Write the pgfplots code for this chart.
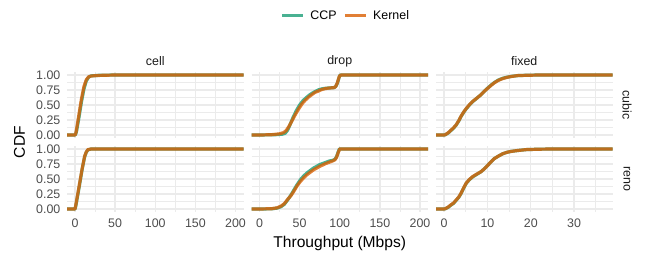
\documentclass[border=0pt]{standalone}
\usepackage{pgfplots}
\pgfplotsset{compat=1.18}
\usepackage{fontspec}
\setmainfont{Liberation Sans}
\definecolor{ccp}{HTML}{1B9E77}
\definecolor{kern}{HTML}{D95F02}
\definecolor{gridc}{HTML}{EBEBEB}
\definecolor{tickc}{HTML}{4D4D4D}
\definecolor{stripc}{HTML}{1A1A1A}
\newcommand{\tsz}{\fontsize{12.4bp}{14bp}\selectfont}
\newcommand{\bsz}{\fontsize{15.6bp}{18bp}\selectfont}
\pgfplotsset{
  panel/.style={
    scale only axis, width=176.5bp, height=66bp, anchor=south west,
    ymin=-0.05, ymax=1.05,
    axis line style={draw=none}, major tick length=0pt, minor tick length=0pt,
    grid=both,
    major grid style={color=gridc, line width=1.4bp},
    minor grid style={color=gridc, line width=0.7bp},
    ytick={0,0.25,0.5,0.75,1}, minor ytick={0.125,0.375,0.625,0.875},
    yticklabels={0.00,0.25,0.50,0.75,1.00},
    /pgf/number format/assume math mode=true,
    xticklabel style={font=\tsz, text=tickc, inner sep=0pt, anchor=north, yshift=-6.5bp},
    yticklabel style={font=\tsz, text=tickc, inner sep=0pt, anchor=east, xshift=-6.5bp},
    clip=true,
  },
  wide/.style={xmin=-10, xmax=210, xtick={0,50,100,150,200}, minor xtick={25,75,125,175}},
  narrow/.style={xmin=-1.85, xmax=38.85, xtick={0,10,20,30}, minor xtick={5,15,25,35}},
  ccpl/.style={color=ccp, opacity=0.8, line width=3.2bp, line join=round},
  kerl/.style={color=kern, opacity=0.8, line width=3.2bp, line join=round},
}
\begin{document}
\begin{tikzpicture}[x=1bp,y=1bp]
\useasboundingbox (0,0) rectangle (645,254);
% ---------- top row (cubic) ----------
\begin{axis}[panel, wide, at={(67bp,116bp)}, xticklabels={}]
\addplot[ccpl] coordinates {(-10,0)(0,0)(1,0.02)(2,0.07)(5,0.3)(8,0.55)(11,0.76)(14,0.9)(17,0.965)(20,0.985)(30,0.995)(50,1)(210,1)};
\addplot[kerl] coordinates {(-10,0)(0,0)(1,0.03)(2,0.1)(5,0.35)(8,0.6)(11,0.8)(14,0.92)(17,0.97)(20,0.983)(30,0.993)(50,1)(210,1)};
\end{axis}
\begin{axis}[panel, wide, at={(251.5bp,116bp)}, xticklabels={}, yticklabels={},
  legend style={at={(0.535,1.855)}, anchor=center, draw=none, fill=none, legend columns=-1,
    font=\tsz, inner sep=0pt,
    /tikz/every odd column/.append style={column sep=4bp},
    /tikz/every even column/.append style={column sep=5bp}},
  legend image code/.code={\draw[#1, line width=2.6bp] (0bp,0bp) -- (21bp,0bp);}]
\addplot[ccpl] coordinates {(-10,0)(0,0)(20,0.005)(28,0.012)(32,0.03)(35,0.08)(38,0.17)(42,0.3)(46,0.41)(50,0.5)(54,0.57)(58,0.62)(62,0.665)(66,0.70)(70,0.73)(74,0.755)(78,0.77)(83,0.78)(88,0.785)(93,0.79)(95,0.81)(97,0.86)(99,0.95)(100,0.99)(101,1)(210,1)};
\addlegendentry{CCP}
\addplot[kerl] coordinates {(-10,0)(0,0)(15,0.005)(25,0.02)(30,0.04)(33,0.07)(37,0.15)(41,0.25)(45,0.35)(49,0.44)(53,0.52)(57,0.58)(61,0.63)(65,0.67)(69,0.71)(73,0.73)(77,0.755)(81,0.77)(85,0.78)(89,0.785)(93,0.79)(95,0.81)(97,0.87)(99,0.96)(100,0.99)(102,1)(210,1)};
\addlegendentry{Kernel}
\end{axis}
\begin{axis}[panel, narrow, at={(436bp,116bp)}, xticklabels={}, yticklabels={}]
\addplot[ccpl] coordinates {(-1.85,0)(0,0)(0.3,0.004)(1,0.035)(1.6,0.075)(2.2,0.115)(2.8,0.165)(3.4,0.235)(3.9,0.305)(4.5,0.375)(5.1,0.435)(5.8,0.495)(6.6,0.555)(7.5,0.61)(8.5,0.67)(9.3,0.73)(10.1,0.785)(10.9,0.835)(11.6,0.875)(12.5,0.915)(13.5,0.945)(14.5,0.963)(15.5,0.977)(17,0.99)(19,0.996)(22,1)(38.85,1)};
\addplot[kerl] coordinates {(-1.85,0)(0,0)(0.3,0.005)(1,0.04)(1.6,0.08)(2.2,0.12)(2.8,0.17)(3.4,0.24)(3.9,0.31)(4.5,0.38)(5.1,0.44)(5.8,0.5)(6.6,0.56)(7.5,0.61)(8.5,0.67)(9.3,0.73)(10.1,0.78)(10.9,0.83)(11.6,0.87)(12.5,0.91)(13.5,0.94)(14.5,0.96)(15.5,0.975)(17,0.99)(19,0.995)(22,1)(38.85,1)};
\end{axis}
% ---------- bottom row (reno) ----------
\begin{axis}[panel, wide, at={(67bp,42bp)}]
\addplot[ccpl] coordinates {(-10,0)(0,0)(1,0.05)(3,0.2)(6,0.43)(9,0.67)(12,0.87)(14,0.945)(16,0.985)(20,1)(210,1)};
\addplot[kerl] coordinates {(-10,0)(0,0)(1,0.07)(3,0.22)(6,0.45)(9,0.68)(12,0.88)(14,0.95)(16,0.99)(20,1)(210,1)};
\end{axis}
\begin{axis}[panel, wide, at={(251.5bp,42bp)}, yticklabels={}]
\addplot[ccpl] coordinates {(-10,0)(0,0)(15,0.003)(22,0.015)(27,0.04)(31,0.08)(35,0.15)(39,0.23)(43,0.32)(47,0.41)(51,0.49)(55,0.55)(59,0.6)(63,0.64)(67,0.68)(71,0.71)(75,0.74)(79,0.76)(83,0.78)(87,0.8)(91,0.81)(94,0.83)(96,0.87)(98,0.95)(99.5,1)(210,1)};
\addplot[kerl] coordinates {(-10,0)(0,0)(15,0.005)(22,0.02)(27,0.05)(31,0.09)(35,0.16)(39,0.22)(43,0.3)(47,0.39)(51,0.46)(55,0.52)(59,0.57)(63,0.61)(67,0.65)(71,0.68)(75,0.71)(79,0.735)(83,0.76)(87,0.78)(91,0.8)(94,0.82)(96,0.86)(98,0.94)(100,1)(210,1)};
\end{axis}
\begin{axis}[panel, narrow, at={(436bp,42bp)}, yticklabels={}]
\addplot[ccpl] coordinates {(-1.85,0)(0,0)(0.3,0.004)(1,0.03)(1.6,0.065)(2.2,0.095)(2.8,0.145)(3.4,0.195)(3.9,0.255)(4.5,0.345)(5.1,0.425)(5.8,0.485)(6.6,0.535)(7.5,0.575)(8.5,0.62)(9.3,0.67)(10.1,0.73)(10.9,0.79)(11.6,0.84)(12.5,0.88)(13.5,0.92)(14.5,0.945)(15.5,0.96)(17,0.975)(19,0.99)(22,0.997)(25,1)(38.85,1)};
\addplot[kerl] coordinates {(-1.85,0)(0,0)(0.3,0.005)(1,0.035)(1.6,0.07)(2.2,0.1)(2.8,0.15)(3.4,0.2)(3.9,0.26)(4.5,0.35)(5.1,0.43)(5.8,0.49)(6.6,0.54)(7.5,0.58)(8.5,0.62)(9.3,0.67)(10.1,0.73)(10.9,0.79)(11.6,0.84)(12.5,0.88)(13.5,0.92)(14.5,0.945)(15.5,0.96)(17,0.975)(19,0.99)(22,0.997)(25,1)(38.85,1)};
\end{axis}
% ---------- strips and titles ----------
\node[font=\tsz, text=stripc] at (155.25,193) {cell};
\node[font=\tsz, text=stripc] at (339.75,193) {drop};
\node[font=\tsz, text=stripc] at (524.25,193) {fixed};
\node[font=\tsz, text=stripc, rotate=-90] at (627,149) {cubic};
\node[font=\tsz, text=stripc, rotate=-90] at (627,75) {reno};
\node[font=\bsz, rotate=90] at (19.5,112) {CDF};
\node[font=\bsz] at (339.75,11) {Throughput (Mbps)};
\end{tikzpicture}
\end{document}
